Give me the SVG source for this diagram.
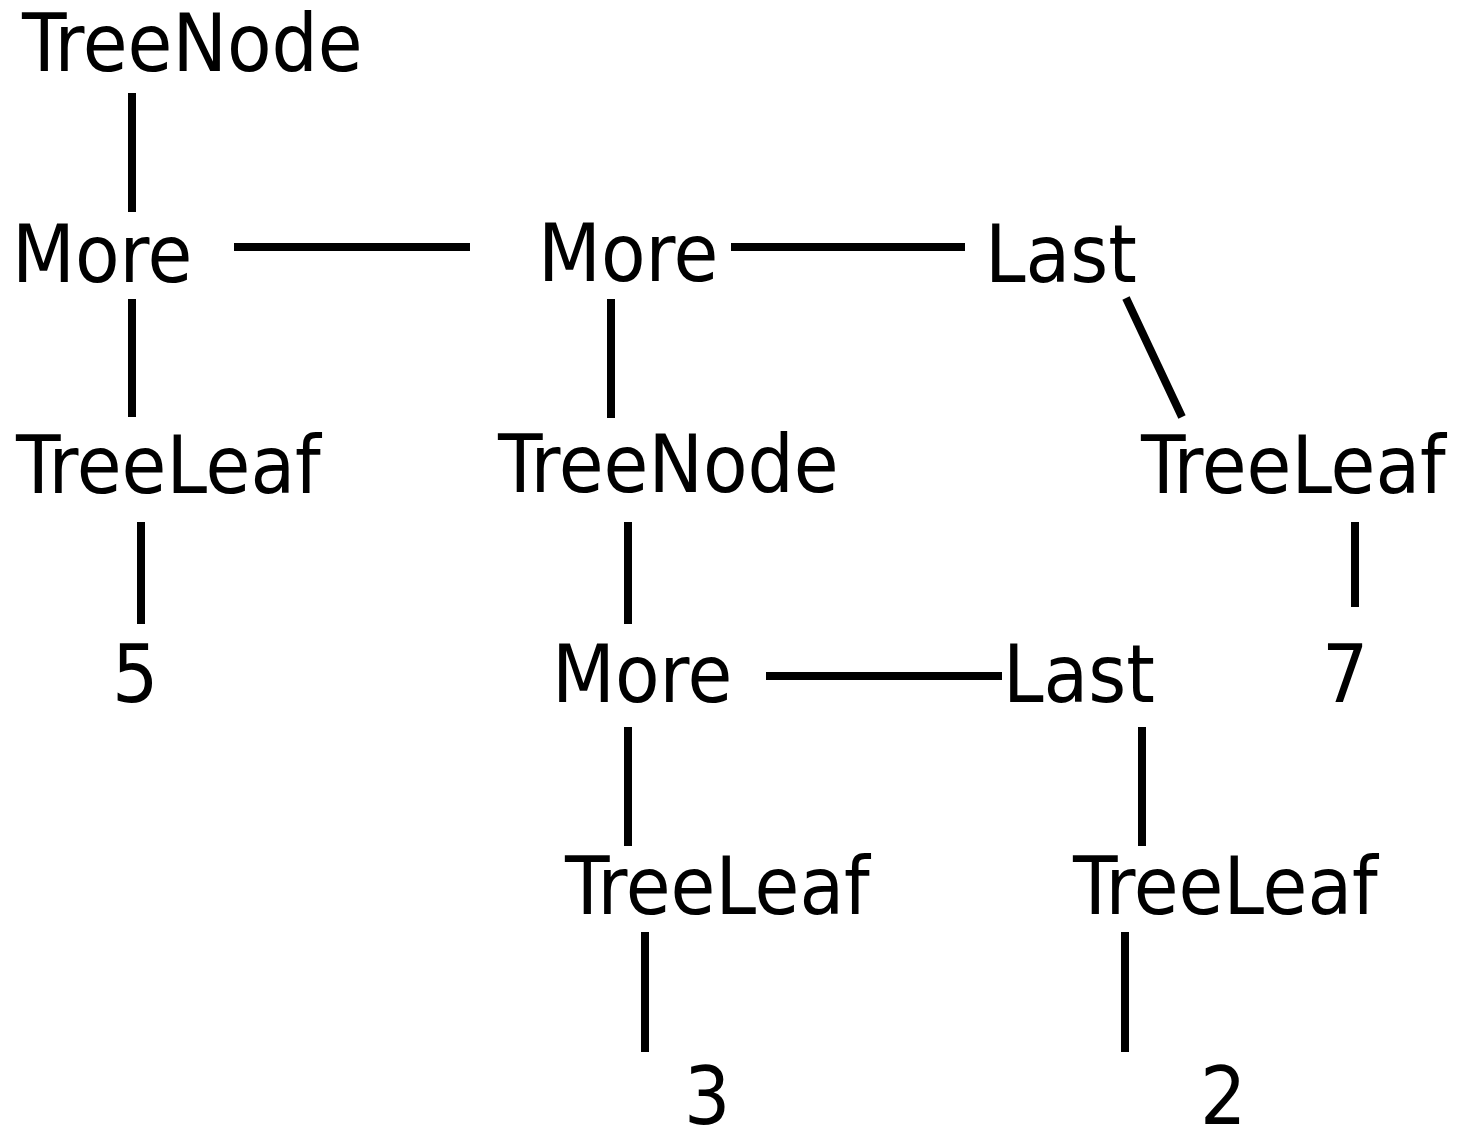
<svg xmlns="http://www.w3.org/2000/svg" width="1458" height="1127" viewBox="0 0 1458 1127">
  <style>
    .lbl { font-family: 'DejaVu Sans Condensed', 'DejaVu Sans', sans-serif; font-stretch: condensed; font-size: 81px; fill: #000; }
    .edge { stroke: #000; stroke-width: 8; fill: none; }
  </style>
  <rect width="1458" height="1127" fill="#fff"/>

  <g id="connectors">
    <line class="edge" x1="132" y1="93" x2="132" y2="212"/>
    <line class="edge" x1="234" y1="247" x2="470" y2="247"/>
    <line class="edge" x1="731" y1="247" x2="965" y2="247"/>
    <line class="edge" x1="132" y1="299" x2="132" y2="417"/>
    <line class="edge" x1="611" y1="299" x2="611" y2="418"/>
    <line class="edge" x1="1126" y1="298" x2="1182" y2="417"/>
    <line class="edge" x1="141" y1="522" x2="141" y2="624"/>
    <line class="edge" x1="628" y1="522" x2="628" y2="624"/>
    <line class="edge" x1="1355" y1="522" x2="1355" y2="607"/>
    <line class="edge" x1="766" y1="676" x2="1002" y2="676"/>
    <line class="edge" x1="628" y1="727" x2="628" y2="846"/>
    <line class="edge" x1="1142" y1="727" x2="1142" y2="846"/>
    <line class="edge" x1="645" y1="932" x2="645" y2="1052"/>
    <line class="edge" x1="1125" y1="932" x2="1125" y2="1052"/>
  </g>

  <g id="node-root"><text class="lbl" x="22" y="71">TreeNode</text></g>
  <g id="node-more1"><text class="lbl" x="12" y="282">More</text></g>
  <g id="node-more2"><text class="lbl" x="538" y="281">More</text></g>
  <g id="node-last1"><text class="lbl" x="985" y="282">Last</text></g>
  <g id="node-leaf5"><text class="lbl" x="16" y="493">TreeLeaf</text></g>
  <g id="node-inner"><text class="lbl" x="498" y="492">TreeNode</text></g>
  <g id="node-leaf7"><text class="lbl" x="1141" y="493">TreeLeaf</text></g>
  <g id="val-5"><text class="lbl" x="112" y="702">5</text></g>
  <g id="node-more3"><text class="lbl" x="552" y="702">More</text></g>
  <g id="node-last2"><text class="lbl" x="1003" y="702">Last</text></g>
  <g id="val-7"><text class="lbl" x="1322" y="702">7</text></g>
  <g id="node-leaf3"><text class="lbl" x="565" y="914">TreeLeaf</text></g>
  <g id="node-leaf2"><text class="lbl" x="1073" y="914">TreeLeaf</text></g>
  <g id="val-3"><text class="lbl" x="684" y="1124">3</text></g>
  <g id="val-2"><text class="lbl" x="1200" y="1124">2</text></g>
</svg>
